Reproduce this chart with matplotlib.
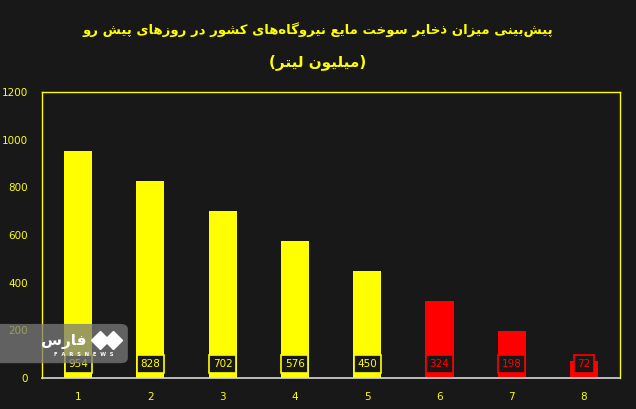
import matplotlib
matplotlib.use("Agg")
import matplotlib.pyplot as plt
from matplotlib.patches import FancyBboxPatch

# ---- data -------------------------------------------------------------------
days = [1, 2, 3, 4, 5, 6, 7, 8]
reserves = [954, 828, 702, 576, 450, 324, 198, 72]
day_labels = ["1", "2", "3", "4", "5", "6", "7", "8"]
title_line1 = "پیش‌بینی میزان ذخایر سوخت مایع نیروگاه‌های کشور در روزهای پیش رو"
title_line2 = "(میلیون لیتر)"

BG = "#181818"
YELLOW = "#FFFF00"
RED = "#FF0000"

# ---- minimal Persian shaping (matplotlib has no bidi / joining) -------------
# letter: (isolated, final, initial, medial); two entries -> right-joining only
FORMS = {
    "ا": (0xFE8D, 0xFE8E), "آ": (0xFE81, 0xFE82),
    "ب": (0xFE8F, 0xFE90, 0xFE91, 0xFE92), "پ": (0xFB56, 0xFB57, 0xFB58, 0xFB59),
    "ت": (0xFE95, 0xFE96, 0xFE97, 0xFE98), "ث": (0xFE99, 0xFE9A, 0xFE9B, 0xFE9C),
    "ج": (0xFE9D, 0xFE9E, 0xFE9F, 0xFEA0), "ح": (0xFEA1, 0xFEA2, 0xFEA3, 0xFEA4),
    "خ": (0xFEA5, 0xFEA6, 0xFEA7, 0xFEA8),
    "د": (0xFEA9, 0xFEAA), "ذ": (0xFEAB, 0xFEAC), "ر": (0xFEAD, 0xFEAE),
    "ز": (0xFEAF, 0xFEB0), "ژ": (0xFB8A, 0xFB8B),
    "س": (0xFEB1, 0xFEB2, 0xFEB3, 0xFEB4), "ش": (0xFEB5, 0xFEB6, 0xFEB7, 0xFEB8),
    "ع": (0xFEC9, 0xFECA, 0xFECB, 0xFECC), "ف": (0xFED1, 0xFED2, 0xFED3, 0xFED4),
    "ق": (0xFED5, 0xFED6, 0xFED7, 0xFED8),
    "ک": (0xFB8E, 0xFB8F, 0xFB90, 0xFB91), "گ": (0xFB92, 0xFB93, 0xFB94, 0xFB95),
    "ل": (0xFEDD, 0xFEDE, 0xFEDF, 0xFEE0), "م": (0xFEE1, 0xFEE2, 0xFEE3, 0xFEE4),
    "ن": (0xFEE5, 0xFEE6, 0xFEE7, 0xFEE8), "ه": (0xFEE9, 0xFEEA, 0xFEEB, 0xFEEC),
    "و": (0xFEED, 0xFEEE), "ی": (0xFBFC, 0xFBFD, 0xFBFE, 0xFBFF),
}
MIRROR = {"(": ")", ")": "("}


def shape(text):
    """Join letters into presentation forms, then lay the line out RTL."""
    out = []
    for i, ch in enumerate(text):
        if ch not in FORMS:
            if ch != "\u200c":
                out.append(ch)
            continue
        prev = text[i - 1] if i > 0 else ""
        nxt = text[i + 1] if i + 1 < len(text) else ""
        join_prev = prev in FORMS and len(FORMS[prev]) == 4
        join_next = nxt in FORMS and len(FORMS[ch]) == 4
        f = FORMS[ch]
        if join_prev and join_next:
            out.append(chr(f[3]))
        elif join_prev:
            out.append(chr(f[1]))
        elif join_next:
            out.append(chr(f[2]))
        else:
            out.append(chr(f[0]))
    return "".join(MIRROR.get(c, c) for c in reversed(out))


plt.rcParams["font.family"] = ["DejaVu Sans"]

fig = plt.figure(figsize=(6.36, 4.09), dpi=100, facecolor=BG)
ax = fig.add_axes([0.066, 0.076, 0.909, 0.699])
ax.set_facecolor(BG)

colors = [YELLOW] * 5 + [RED] * 3
ax.bar(days, reserves, width=0.39, color=colors, zorder=2)

for d, v, c in zip(days, reserves, colors):
    ax.text(d, 58, str(v), ha="center", va="center", fontsize=7.5,
            color=c, zorder=4,
            bbox=dict(boxstyle="square,pad=0.35", facecolor=BG,
                      edgecolor=c, linewidth=1.2))

ax.set_xlim(0.5, 8.5)
ax.set_ylim(0, 1200)
ax.set_xticks(days)
ax.set_xticklabels(day_labels)
ax.set_yticks(range(0, 1201, 200))
ax.tick_params(axis="both", colors=YELLOW, labelsize=7.5, length=0)
ax.tick_params(axis="x", pad=10)
ax.tick_params(axis="y", pad=10)
for side in ("top", "left", "right"):
    ax.spines[side].set_color(YELLOW)
    ax.spines[side].set_linewidth(1.0)
ax.spines["bottom"].set_color("#D9D9D9")
ax.spines["bottom"].set_linewidth(1.2)

fig.text(0.5, 0.927, shape(title_line1), ha="center", va="center",
         fontsize=9.5, fontweight="bold", color=YELLOW)
fig.text(0.5, 0.848, shape(title_line2), ha="center", va="center",
         fontsize=11, fontweight="bold", color=YELLOW)

# ---- watermark badge ---------------------------------------------------------
badge = FancyBboxPatch((-0.02, 0.112), 0.221, 0.096,
                       boxstyle="round,pad=0,rounding_size=0.012",
                       transform=fig.transFigure, facecolor="#7A7A7A",
                       edgecolor="none", alpha=0.75, zorder=10)
fig.patches.append(badge)
fig.text(0.100, 0.166, shape("فارس"), ha="center", va="center",
         fontsize=11, fontweight="bold", color="white", zorder=11)
fig.text(0.131, 0.133, "F  A  R  S  N  E  W  S", ha="center", va="center",
         fontsize=3.8, fontweight="bold", color="white", zorder=11)
fig.lines.append(plt.Line2D([0.158, 0.177], [0.169, 0.169],
                            transform=fig.transFigure, marker="D",
                            linestyle="none", markersize=9,
                            color="white", zorder=11))

fig.savefig("out.png", dpi=100, facecolor=BG)
